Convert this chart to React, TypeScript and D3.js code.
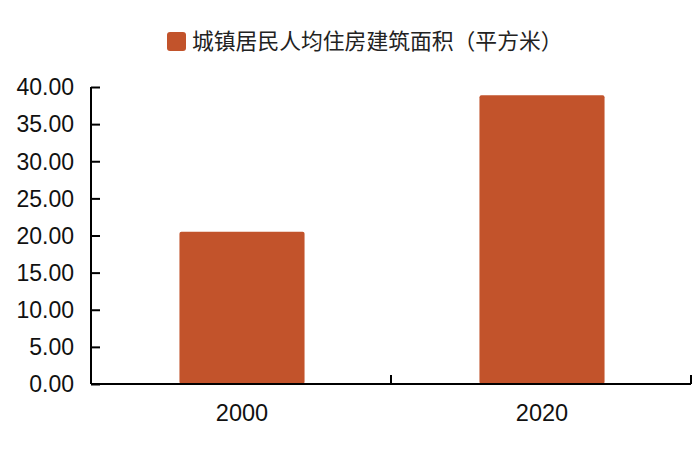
import { useEffect, useRef } from "react";
import * as d3 from "d3";

const categories = ["2000", "2020"];
const values = [20.5, 38.9];
const yTicks = [0, 5, 10, 15, 20, 25, 30, 35, 40];
const seriesName = "城镇居民人均住房建筑面积（平方米）";

const WIDTH = 700;
const HEIGHT = 454;
const BAR_COLOR = "#c2532b";

export default function App() {
  const svgRef = useRef<SVGSVGElement>(null);

  useEffect(() => {
    if (!svgRef.current) return;
    const svg = d3.select(svgRef.current);
    svg.selectAll("*").remove();

    const margin = { top: 87, right: 9, bottom: 70, left: 91 };
    const innerW = WIDTH - margin.left - margin.right;
    const innerH = HEIGHT - margin.top - margin.bottom;

    const g = svg
      .append("g")
      .attr("transform", `translate(${margin.left},${margin.top})`);

    const x = d3.scaleBand().domain(categories).range([0, innerW]);
    const y = d3.scaleLinear().domain([0, 40]).range([innerH, 0]);

    const barW = x.bandwidth() * 0.417;

    // bars
    g.selectAll(".bar")
      .data(values)
      .enter()
      .append("rect")
      .attr("class", "bar")
      .attr("x", (_, i) => (x(categories[i]) || 0) + x.bandwidth() / 2 - barW / 2 + 1)
      .attr("y", (d) => y(d))
      .attr("width", barW)
      .attr("height", (d) => innerH - y(d))
      .attr("rx", 2)
      .attr("fill", BAR_COLOR);

    // y axis
    const yAxis = g
      .append("g")
      .call(
        d3
          .axisRight(y)
          .tickValues(yTicks)
          .tickSize(9)
          .tickFormat(() => "")
      );
    yAxis.select(".domain").remove();
    yAxis.selectAll("line").attr("stroke", "#000").attr("stroke-width", 2);
    g.append("line")
      .attr("x1", 0)
      .attr("x2", 0)
      .attr("y1", 0)
      .attr("y2", innerH)
      .attr("stroke", "#000")
      .attr("stroke-width", 2);

    g.selectAll(".ylabel")
      .data(yTicks)
      .enter()
      .append("text")
      .attr("class", "ylabel")
      .attr("x", -17)
      .attr("y", (d) => y(d))
      .attr("dy", "0.36em")
      .attr("text-anchor", "end")
      .attr("font-family", "Liberation Sans, Arial, sans-serif")
      .attr("font-size", 23)
      .attr("fill", "#111")
      .text((d) => d.toFixed(2));

    // x axis
    g.append("line")
      .attr("x1", 0)
      .attr("x2", innerW)
      .attr("y1", innerH)
      .attr("y2", innerH)
      .attr("stroke", "#000")
      .attr("stroke-width", 2);

    g.selectAll(".xtick")
      .data(categories)
      .enter()
      .append("line")
      .attr("class", "xtick")
      .attr("x1", (d) => (x(d) || 0) + x.bandwidth())
      .attr("x2", (d) => (x(d) || 0) + x.bandwidth())
      .attr("y1", innerH)
      .attr("y2", innerH - 9)
      .attr("stroke", "#000")
      .attr("stroke-width", 2);

    g.selectAll(".xlabel")
      .data(categories)
      .enter()
      .append("text")
      .attr("class", "xlabel")
      .attr("x", (d) => (x(d) || 0) + x.bandwidth() / 2 + 1)
      .attr("y", innerH + 29)
      .attr("dy", "0.36em")
      .attr("text-anchor", "middle")
      .attr("font-family", "Liberation Sans, Arial, sans-serif")
      .attr("font-size", 23.5)
      .attr("fill", "#111")
      .text((d) => d);

    // legend
    const legend = svg.append("g").attr("transform", "translate(167,32)");
    legend
      .append("rect")
      .attr("width", 19)
      .attr("height", 19)
      .attr("rx", 3)
      .attr("fill", BAR_COLOR);
    legend
      .append("text")
      .attr("x", 25)
      .attr("y", 9.5)
      .attr("dy", "0.36em")
      .attr("font-family", "Noto Sans CJK SC, sans-serif")
      .attr("font-size", 21.8)
      .attr("fill", "#222")
      .text(seriesName);
  }, []);

  return (
    <svg
      ref={svgRef}
      width={WIDTH}
      height={HEIGHT}
      style={{ position: "absolute", left: 0, top: 0, background: "#fff" }}
    />
  );
}
